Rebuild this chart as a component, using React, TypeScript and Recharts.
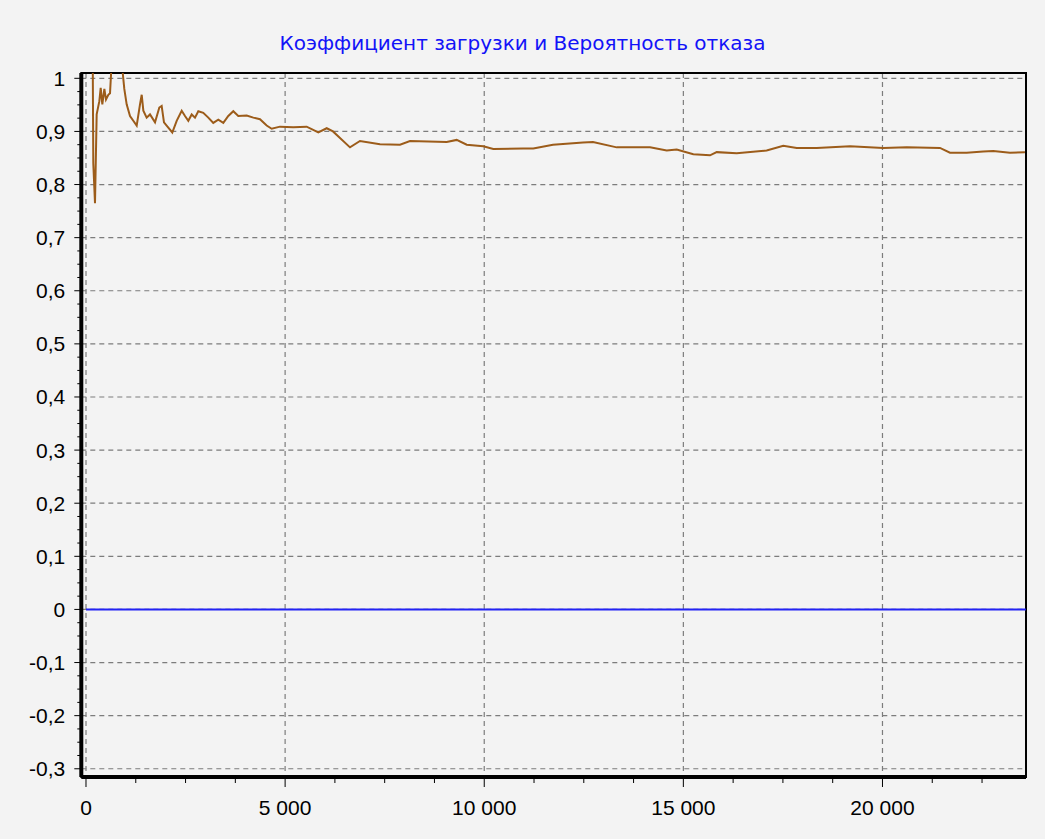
import { LineChart, Line, XAxis, YAxis, CartesianGrid, ReferenceArea } from "recharts";

// load factor (brown)
const loadX = [
    168, 183, 226, 268, 335, 369, 410, 461, 502, 561, 603, 645, 760, 896, 962, 1021, 1105, 1188, 1273,
    1356, 1399, 1440, 1523, 1607, 1733, 1841, 1900, 1958, 2025, 2167, 2277, 2403, 2486, 2569, 2654,
    2737, 2820, 2945, 3071, 3196, 3322, 3448, 3573, 3699, 3824, 4035, 4202, 4369, 4537, 4663, 4871,
    5206, 5541, 5833, 6044, 6202, 6629, 6880, 7382, 7885, 8136, 9057, 9308, 9560, 9976, 10227, 10973,
    11232, 11726, 12480, 12731, 13326, 14164, 14582, 14833, 15250, 15670, 15837, 16339, 17092, 17509,
    17846, 18348, 19185, 20020, 20608, 21444, 21695, 22114, 22531, 22782, 23201, 23578
];
const loadY = [
    1.05, 0.84, 0.765, 0.932, 0.957, 0.982, 0.951, 0.98, 0.96, 0.969, 0.972, 1.03, 1.015, 1.03, 0.98, 0.951, 0.929, 0.92, 0.911,
    0.951, 0.969, 0.939, 0.926, 0.932, 0.917, 0.945, 0.948, 0.917, 0.911, 0.898, 0.92, 0.939, 0.929, 0.92, 0.932,
    0.926, 0.938, 0.935, 0.926, 0.916, 0.922, 0.916, 0.929, 0.938, 0.929, 0.93, 0.926, 0.923, 0.911, 0.905, 0.909,
    0.908, 0.909, 0.898, 0.906, 0.9, 0.87, 0.882, 0.876, 0.875, 0.882, 0.88, 0.884, 0.875, 0.872, 0.867, 0.868,
    0.868, 0.875, 0.879, 0.88, 0.87, 0.87, 0.864, 0.866, 0.857, 0.855, 0.861, 0.859, 0.864, 0.873,
    0.869, 0.869, 0.872, 0.869, 0.87, 0.869, 0.86, 0.86, 0.862, 0.863, 0.86, 0.861
];

// failure probability (blue)
const failX = [0, 23600];
const failY = [0, 0];

const xMajorTicks = [0, 5000, 10000, 15000, 20000];
const yMajorTicks = [-0.3, -0.2, -0.1, 0, 0.1, 0.2, 0.3, 0.4, 0.5, 0.6, 0.7, 0.8, 0.9, 1];

const xDomain = [-118, 23604];
const yDomain = [-0.3155, 1.01];

const xTicks = Array.from({ length: 19 }, (_, i) => i * 1250);
const yTicks = Array.from({ length: 53 }, (_, i) => Math.round((-0.3 + i * 0.025) * 1000) / 1000);

const loadData = loadX.map((x, i) => ({ x, y: loadY[i] }));
const failData = failX.map((x, i) => ({ x, y: failY[i] }));

const tickFont = "'Liberation Sans', Arial, sans-serif";

function fmtX(v: number) {
    return String(v).replace(/\B(?=(\d{3})+(?!\d))/g, " ");
}

function fmtY(v: number) {
    return String(Math.round(v * 10) / 10).replace(".", ",");
}

function XTick({ x, y, payload }: any) {
    const v = payload.value;
    const major = v % 5000 === 0;
    return (
        <g>
            <line x1={x} x2={x} y1={y} y2={y + (major ? 10 : 6)} stroke="#000" strokeWidth={1} />
            {major && (
                <text x={x} y={y + 38} textAnchor="middle" fontFamily={tickFont} fontSize={21} fill="#000">
                    {fmtX(v)}
                </text>
            )}
        </g>
    );
}

function YTick({ x, y, payload }: any) {
    const v = payload.value;
    const major = Math.abs(v * 10 - Math.round(v * 10)) < 1e-6;
    return (
        <g>
            <line x1={x - (major ? 7 : 4)} x2={x} y1={y} y2={y} stroke="#000" strokeWidth={1} />
            {major && (
                <text x={x - 16} y={y + 7.5} textAnchor="end" fontFamily={tickFont} fontSize={21} fill="#000">
                    {fmtY(v)}
                </text>
            )}
        </g>
    );
}

export default function App() {
    return (
        <div style={{ position: "fixed", left: 0, top: 0, width: 1045, height: 839, background: "#f3f3f3" }}>

            <div
                style={{
                    position: "absolute",
                    left: 0,
                    top: 31,
                    width: 1045,
                    textAlign: "center",
                    fontFamily: "'DejaVu Sans', sans-serif",
                    fontSize: 20,
                    lineHeight: "24px",
                    color: "#1212f8"
                }}
            >
                Коэффициент загрузки и Вероятность отказа
            </div>

            <div style={{ position: "absolute", left: 0, top: 0 }}>
                <LineChart width={1045} height={839} margin={{ top: 73, right: 19, bottom: 2, left: 11.3 }}>

                    <CartesianGrid
                        horizontalValues={yMajorTicks}
                        verticalValues={xMajorTicks}
                        stroke="#7c7c7c"
                        strokeWidth={1.2}
                        strokeDasharray="5 4"
                    />

                    <ReferenceArea
                        x1={xDomain[0]}
                        x2={xDomain[1]}
                        y1={yDomain[0]}
                        y2={yDomain[1]}
                        fill="none"
                        fillOpacity={0}
                        stroke="#000"
                        strokeWidth={2}
                    />

                    <XAxis
                        type="number"
                        dataKey="x"
                        domain={xDomain}
                        allowDataOverflow
                        ticks={xTicks}
                        interval={0}
                        height={60}
                        tickSize={0}
                        tickMargin={0}
                        tickLine={false}
                        tick={<XTick />}
                        axisLine={{ stroke: "#000", strokeWidth: 4 }}
                    />

                    <YAxis
                        type="number"
                        dataKey="y"
                        domain={yDomain}
                        allowDataOverflow
                        ticks={yTicks}
                        interval={0}
                        width={70}
                        tickSize={0}
                        tickMargin={0}
                        tickLine={false}
                        tick={<YTick />}
                        axisLine={{ stroke: "#000", strokeWidth: 4 }}
                    />

                    <Line
                        data={failData}
                        dataKey="y"
                        type="linear"
                        stroke="#2323f5"
                        strokeWidth={2}
                        dot={false}
                        isAnimationActive={false}
                    />

                    <Line
                        data={loadData}
                        dataKey="y"
                        type="linear"
                        stroke="#9c5c1a"
                        strokeWidth={2}
                        dot={false}
                        isAnimationActive={false}
                    />

                </LineChart>
            </div>

        </div>
    );
}
